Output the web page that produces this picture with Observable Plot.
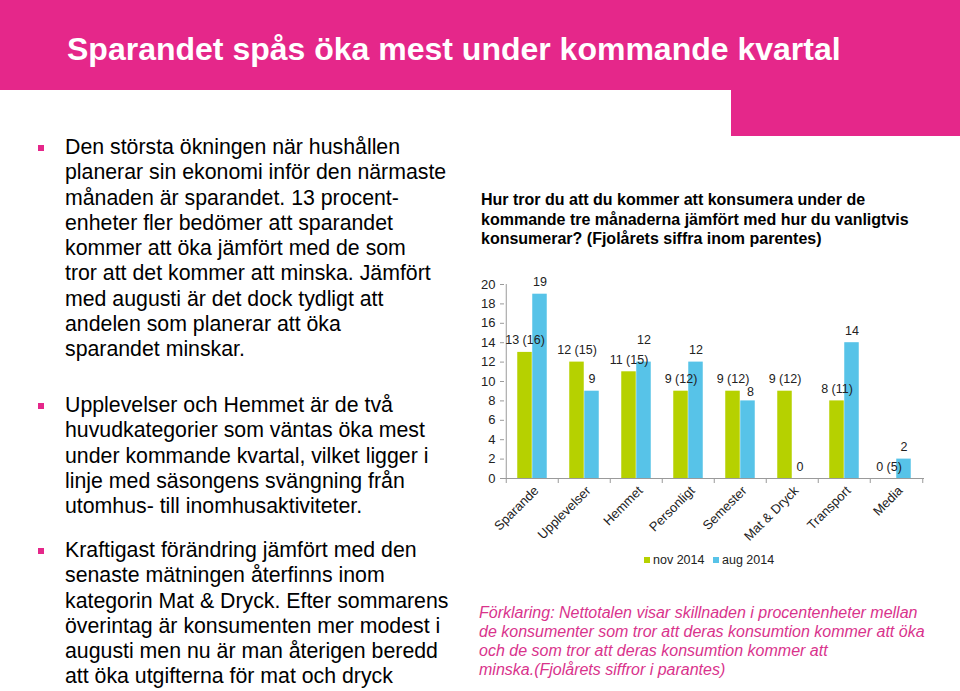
<!DOCTYPE html>
<html>
<head>
<meta charset="utf-8">
<script src="https://cdn.jsdelivr.net/npm/d3@7"></script>
<script src="https://cdn.jsdelivr.net/npm/@observablehq/plot@0.6"></script>
<style>
  html, body { margin: 0; padding: 0; background: #fff; }
  body { width: 960px; height: 691px; position: relative; overflow: hidden; font-family: "Liberation Sans", Arial, sans-serif; color: #000; }
  .band { position: absolute; background: #e5278a; }
  .title { position: absolute; left: 67px; top: 31px; font-size: 32px; line-height: 36px; font-weight: bold; color: #fff; white-space: nowrap; }
  .para { position: absolute; left: 65px; font-size: 21.3px; line-height: 25.3px; white-space: nowrap; color: #000; }
  .bullet { position: absolute; left: 38px; width: 6px; height: 6px; background: #e5278a; }
  .ctitle { position: absolute; left: 481px; top: 190px; font-size: 16px; line-height: 19.5px; font-weight: bold; white-space: nowrap; }
  .foot { position: absolute; left: 479px; top: 603px; font-size: 16px; line-height: 19px; font-style: italic; color: #d9338c; white-space: nowrap; }
  #chart { position: absolute; left: 470px; top: 270px; }
  #chart svg g[aria-label="y-axis tick label"] text,
  #chart svg g[aria-label="x-axis tick label"] text { font-size: 13px !important; }
  #chart svg g[aria-label="text"] text { font-size: 12.5px !important; }
  .legend { position: absolute; top: 552px; font-size: 12.5px; line-height: 16px; color: #222; white-space: nowrap; }
  .legend i { display: inline-block; width: 6px; height: 6px; margin-right: 3px; vertical-align: 1px; }
</style>
</head>
<body>
<div class="band" style="left:0;top:0;width:960px;height:90px"></div>
<div class="band" style="left:731px;top:0;width:229px;height:136px"></div>
<div class="title">Sparandet spås öka mest under kommande kvartal</div>

<div class="bullet" style="top:145px"></div>
<div class="para" style="top:135px">Den största ökningen när hushållen<br>planerar sin ekonomi inför den närmaste<br>månaden är sparandet. 13 procent-<br>enheter fler bedömer att sparandet<br>kommer att öka jämfört med de som<br>tror att det kommer att minska. Jämfört<br>med augusti är det dock tydligt att<br>andelen som planerar att öka<br>sparandet minskar.</div>

<div class="bullet" style="top:403px"></div>
<div class="para" style="top:393px">Upplevelser och Hemmet är de två<br>huvudkategorier som väntas öka mest<br>under kommande kvartal, vilket ligger i<br>linje med säsongens svängning från<br>utomhus- till inomhusaktiviteter.</div>

<div class="bullet" style="top:548px"></div>
<div class="para" style="top:538px">Kraftigast förändring jämfört med den<br>senaste mätningen återfinns inom<br>kategorin Mat &amp; Dryck. Efter sommarens<br>överintag är konsumenten mer modest i<br>augusti men nu är man återigen beredd<br>att öka utgifterna för mat och dryck</div>

<div class="ctitle">Hur tror du att du kommer att konsumera under de<br>kommande tre månaderna jämfört med hur du vanligtvis<br>konsumerar? (Fjolårets siffra inom parentes)</div>

<div id="chart"></div>

<div class="legend" style="left:644px"><i style="background:#b6d100"></i>nov 2014</div>
<div class="legend" style="left:713px"><i style="background:#57c3e8"></i>aug 2014</div>

<div class="foot">Förklaring: Nettotalen visar skillnaden i procentenheter mellan<br>de konsumenter som tror att deras konsumtion kommer att öka<br>och de som tror att deras konsumtion kommer att<br>minska.(Fjolårets siffror i parantes)</div>

<script>
const categories = ["Sparande", "Upplevelser", "Hemmet", "Personligt", "Semester", "Mat & Dryck", "Transport", "Media"];
const nov2014 = [13, 12, 11, 9, 9, 9, 8, 0];
const aug2014 = [19, 9, 12, 12, 8, 0, 14, 2];
const lastYear = [16, 15, 15, 12, 12, 12, 11, 5];
const yTicks = [0, 2, 4, 6, 8, 10, 12, 14, 16, 18, 20];
const seriesNames = ["nov 2014", "aug 2014"];

const green = "#b6d100";
const blue = "#57c3e8";

const novData = categories.map((c, i) => ({category: c, value: nov2014[i], label: `${nov2014[i]} (${lastYear[i]})`}));
const augData = categories.map((c, i) => ({category: c, value: aug2014[i], label: `${aug2014[i]}`}));

const half = 26.25; // half band width in px
const axisGray = "#9a9a9a";
const textCol = "#222";

const chart = Plot.plot({
  width: 490,
  height: 270,
  marginTop: 14,
  marginBottom: 62,
  marginLeft: 34,
  marginRight: 36,
  x: {domain: categories, padding: 0},
  y: {domain: [0, 20]},
  style: {fontFamily: "'Liberation Sans', Arial, sans-serif", fontSize: "13px", color: textCol, background: "transparent", overflow: "visible"},
  marks: [
    Plot.barY(novData, {x: "category", y: "value", fill: green, insetLeft: 11.25, insetRight: 26.25}),
    Plot.barY(augData, {x: "category", y: "value", fill: blue, insetLeft: 26.25, insetRight: 11.25}),
    Plot.ruleY([0], {stroke: axisGray}),
    Plot.ruleX([categories[0]], {y1: 0, y2: 20, dx: -half, stroke: axisGray}),
    Plot.axisY({ticks: yTicks, tickSize: 4, tickPadding: 5, stroke: axisGray, fill: textCol, fontSize: 13, label: null}),
    Plot.axisX({tickSize: 5, dx: -half, stroke: axisGray, fill: "none", label: null}),
    Plot.axisX({ticks: [categories[categories.length - 1]], tickSize: 5, dx: half, stroke: axisGray, fill: "none", label: null}),
    Plot.axisX({tickSize: 0, tickPadding: 10, tickRotate: -45, dx: 4, fill: textCol, fontSize: 13, label: null}),
    Plot.text(novData, {x: "category", y: "value", text: "label", dx: -7.5, dy: -12, fontSize: 12.5, fill: textCol}),
    Plot.text(augData.filter(d => d.category !== "Hemmet" && d.category !== "Semester"), {x: "category", y: "value", text: "label", dx: 7.5, dy: -12, fontSize: 12.5, fill: textCol}),
    Plot.text(augData.filter(d => d.category === "Hemmet"), {x: "category", y: "value", text: "label", dx: 7.5, dy: -22, fontSize: 12.5, fill: textCol}),
    Plot.text(augData.filter(d => d.category === "Semester"), {x: "category", y: "value", text: "label", dx: 10, dy: -9, fontSize: 12.5, fill: textCol})
  ]
});
document.getElementById("chart").appendChild(chart);
</script>
</body>
</html>
